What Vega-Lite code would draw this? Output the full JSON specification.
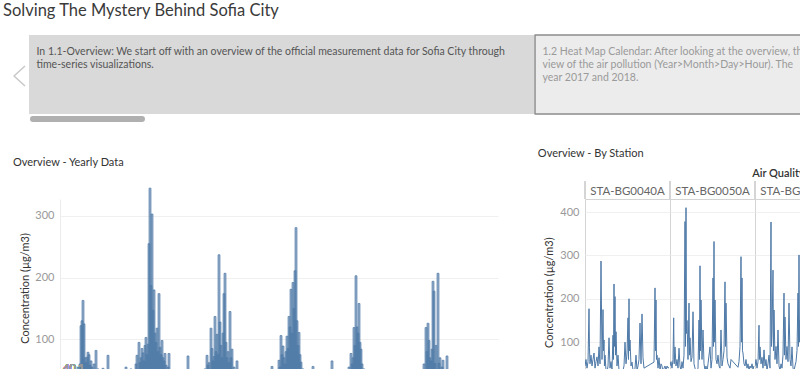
{
  "$schema": "https://vega.github.io/schema/vega-lite/v6.json",
  "padding": {"left": 3, "top": 2, "right": 0, "bottom": 0},
  "background": "white",
  "config": {"view": {"stroke": null}, "font": "Lato"},
  "title": {"text": "Solving The Mystery Behind Sofia City", "anchor": "start", "frame": "bounds", "dx": -10, "fontSize": 16.5, "fontWeight": "normal", "color": "#3a3a3a", "baseline": "top", "offset": 15},
  "spacing": 26,
  "vconcat": [
    {
      "width": 1011,
      "height": 79,
      "data": {"values": [
        {"story": "1.1 Overview", "state": "current", "caption": "In 1.1-Overview: We start off with an overview of the official measurement data for Sofia City through\ntime-series visualizations."},
        {"story": "1.2 Heat Map Calendar", "state": "other", "caption": "1.2 Heat Map Calendar: After looking at the overview, the\nview of the air pollution (Year>Month>Day>Hour).  The\nyear 2017 and 2018."}
      ]},
      "encoding": {"x": {"field": "story", "type": "nominal", "sort": null, "scale": {"paddingInner": 0.002, "paddingOuter": 0}, "axis": null}},
      "layer": [
        {"transform": [{"filter": "datum.state === 'current'"}], "mark": {"type": "rect", "fill": "#d9d9d9", "xOffset": -31, "x2Offset": -31}},
        {"transform": [{"filter": "datum.state === 'other'"}], "mark": {"type": "rect", "fill": "#ececec", "stroke": "#8c8c8c", "strokeWidth": 1.5, "strokeJoin": "round", "xOffset": -31, "x2Offset": -31}},
        {"mark": {"type": "text", "align": "left", "baseline": "top", "lineBreak": "\n", "dx": -23.5, "dy": -28, "fontSize": 10.5, "lineHeight": 13},
         "encoding": {"x": {"field": "story", "type": "nominal", "bandPosition": 0}, "text": {"field": "caption"},
           "color": {"field": "state", "type": "nominal", "scale": {"domain": ["current", "other"], "range": ["#555555", "#9a9a9a"]}, "legend": null}}},
        {"transform": [{"filter": "datum.state === 'current'"}], "mark": {"type": "point", "shape": "M0.55,-1L-0.55,0L0.55,1", "filled": false, "size": 400, "stroke": "#c8c8c8", "strokeWidth": 1.5, "strokeJoin": "round", "opacity": 1, "xOffset": -40.5, "yOffset": 1.5},
         "encoding": {"x": {"field": "story", "type": "nominal", "bandPosition": 0}}},
        {"transform": [{"filter": "datum.state === 'current'"}], "mark": {"type": "point", "shape": "M-0.948,0L0.948,0", "filled": false, "size": 13225, "stroke": "#b0b0b0", "strokeWidth": 6, "strokeCap": "round", "strokeJoin": "round", "opacity": 1, "xOffset": -31, "yOffset": 44.5},
         "encoding": {"x": {"field": "story", "type": "nominal", "bandPosition": 0.1158}}}
      ]
    },
    {
      "spacing": 38,
      "hconcat": [
        {
          "width": 438,
          "height": 202,
          "title": {"text": "Overview - Yearly Data", "anchor": "start", "frame": "group", "dx": -47, "fontSize": 11, "fontWeight": "normal", "color": "#333333", "baseline": "top", "offset": 19.5},
          "data": {"values": [
            {"Day":90,"Conc":55},{"Day":100,"Conc":60},{"Day":105,"Conc":122},{"Day":110,"Conc":130},{"Day":115,"Conc":163},{"Day":120,"Conc":125},{"Day":125,"Conc":70},{"Day":130,"Conc":62},{"Day":135,"Conc":71},{"Day":140,"Conc":79},{"Day":145,"Conc":75},{"Day":150,"Conc":58},{"Day":155,"Conc":65},{"Day":160,"Conc":55},{"Day":170,"Conc":60},{"Day":180,"Conc":82},{"Day":190,"Conc":52},{"Day":200,"Conc":48},{"Day":215,"Conc":53},{"Day":240,"Conc":74},{"Day":260,"Conc":45},{"Day":300,"Conc":42},{"Day":330,"Conc":55},
            {"Day":355,"Conc":52},{"Day":370,"Conc":48},{"Day":380,"Conc":60},{"Day":385,"Conc":74},{"Day":395,"Conc":95},{"Day":400,"Conc":62},{"Day":405,"Conc":70},{"Day":410,"Conc":85},{"Day":415,"Conc":78},{"Day":420,"Conc":65},{"Day":425,"Conc":90},{"Day":430,"Conc":103},{"Day":435,"Conc":75},{"Day":440,"Conc":92},{"Day":445,"Conc":255},{"Day":450,"Conc":345},{"Day":455,"Conc":187},{"Day":460,"Conc":303},{"Day":465,"Conc":147},{"Day":470,"Conc":180},{"Day":475,"Conc":110},{"Day":480,"Conc":95},{"Day":485,"Conc":118},{"Day":490,"Conc":80},{"Day":495,"Conc":174},{"Day":500,"Conc":87},{"Day":505,"Conc":75},{"Day":510,"Conc":98},{"Day":515,"Conc":70},{"Day":520,"Conc":65},{"Day":525,"Conc":77},{"Day":530,"Conc":58},{"Day":540,"Conc":55},{"Day":545,"Conc":77},{"Day":555,"Conc":50},{"Day":570,"Conc":45},{"Day":600,"Conc":42},{"Day":640,"Conc":73},{"Day":675,"Conc":45},
            {"Day":710,"Conc":48},{"Day":725,"Conc":52},{"Day":735,"Conc":74},{"Day":740,"Conc":58},{"Day":745,"Conc":62},{"Day":755,"Conc":118},{"Day":760,"Conc":85},{"Day":765,"Conc":65},{"Day":770,"Conc":72},{"Day":775,"Conc":137},{"Day":780,"Conc":80},{"Day":785,"Conc":108},{"Day":790,"Conc":75},{"Day":795,"Conc":237},{"Day":800,"Conc":128},{"Day":805,"Conc":90},{"Day":810,"Conc":70},{"Day":815,"Conc":110},{"Day":820,"Conc":174},{"Day":825,"Conc":207},{"Day":830,"Conc":95},{"Day":835,"Conc":70},{"Day":840,"Conc":80},{"Day":845,"Conc":62},{"Day":850,"Conc":145},{"Day":855,"Conc":70},{"Day":860,"Conc":84},{"Day":870,"Conc":55},{"Day":885,"Conc":65},{"Day":890,"Conc":50},{"Day":925,"Conc":45},{"Day":975,"Conc":42},
            {"Day":1040,"Conc":45},{"Day":1060,"Conc":56},{"Day":1080,"Conc":50},{"Day":1095,"Conc":66},{"Day":1100,"Conc":55},{"Day":1105,"Conc":106},{"Day":1110,"Conc":75},{"Day":1115,"Conc":89},{"Day":1120,"Conc":70},{"Day":1125,"Conc":60},{"Day":1130,"Conc":80},{"Day":1135,"Conc":105},{"Day":1140,"Conc":85},{"Day":1145,"Conc":137},{"Day":1150,"Conc":120},{"Day":1155,"Conc":181},{"Day":1160,"Conc":110},{"Day":1165,"Conc":192},{"Day":1170,"Conc":150},{"Day":1175,"Conc":211},{"Day":1180,"Conc":281},{"Day":1185,"Conc":130},{"Day":1190,"Conc":90},{"Day":1195,"Conc":111},{"Day":1200,"Conc":75},{"Day":1205,"Conc":63},{"Day":1215,"Conc":52},{"Day":1230,"Conc":45},{"Day":1265,"Conc":56},{"Day":1300,"Conc":44},{"Day":1360,"Conc":65},{"Day":1400,"Conc":45},
            {"Day":1430,"Conc":48},{"Day":1445,"Conc":55},{"Day":1455,"Conc":77},{"Day":1460,"Conc":60},{"Day":1465,"Conc":70},{"Day":1470,"Conc":119},{"Day":1475,"Conc":90},{"Day":1480,"Conc":203},{"Day":1485,"Conc":120},{"Day":1490,"Conc":110},{"Day":1495,"Conc":158},{"Day":1500,"Conc":95},{"Day":1505,"Conc":84},{"Day":1510,"Conc":60},{"Day":1520,"Conc":52},{"Day":1540,"Conc":45},{"Day":1600,"Conc":42},
            {"Day":1790,"Conc":45},{"Day":1810,"Conc":50},{"Day":1820,"Conc":60},{"Day":1830,"Conc":119},{"Day":1835,"Conc":80},{"Day":1840,"Conc":126},{"Day":1845,"Conc":98},{"Day":1850,"Conc":70},{"Day":1855,"Conc":65},{"Day":1860,"Conc":84},{"Day":1865,"Conc":194},{"Day":1870,"Conc":178},{"Day":1875,"Conc":61},{"Day":1880,"Conc":90},{"Day":1890,"Conc":207},{"Day":1895,"Conc":61},{"Day":1900,"Conc":70},{"Day":1910,"Conc":55},{"Day":1915,"Conc":66},{"Day":1925,"Conc":50},{"Day":1935,"Conc":73},{"Day":1950,"Conc":48},{"Day":1975,"Conc":42}
          ]},
          "layer": [
            {"mark": {"type": "bar", "width": 2, "fill": "#4e79a7", "fillOpacity": 0.6, "stroke": "#4e79a7", "strokeWidth": 0.7, "strokeOpacity": 0.95, "strokeJoin": "round"},
             "encoding": {
               "x": {"field": "Day", "type": "quantitative", "scale": {"domain": [0, 2190], "padding": 0, "nice": false, "zero": false}, "axis": null},
               "y": {"field": "Conc", "type": "quantitative", "scale": {"domain": [0, 327.4], "nice": false},
                 "axis": {"title": "Concentration (µg/m3)", "titleY": 89, "values": [0, 100, 200, 300], "grid": true, "gridColor": "#f0f0f0", "domain": true, "domainColor": "#ececec", "ticks": false, "tickSize": 0, "labelPadding": 6, "labelColor": "#999999", "labelFontSize": 11, "titleColor": "#333333", "titleFontSize": 11, "titleFontWeight": "normal", "titlePadding": 4}}}},
            {"mark": {"type": "rule", "color": "#aaaaaa", "strokeDash": [3, 3]}, "encoding": {"y": {"datum": 40.1}}},
            {"mark": {"type": "text", "align": "left", "baseline": "alphabetic", "dx": 3, "dy": -4, "fill": "#999999", "fontSize": 11},
             "encoding": {"x": {"datum": 0, "type": "quantitative"}, "y": {"datum": 40.1, "type": "quantitative"}, "text": {"value": "40.1"}}}
          ]
        },
        {
          "title": {"text": "Overview - By Station", "anchor": "start", "frame": "bounds", "dx": -6, "fontSize": 11, "fontWeight": "normal", "color": "#333333", "baseline": "top", "offset": 9},
          "bounds": "flush",
          "data": {"values": [
            {"Station":"STA-BG0040A","Day":0,"Conc":45},{"Station":"STA-BG0040A","Day":25,"Conc":60},{"Station":"STA-BG0040A","Day":50,"Conc":40},{"Station":"STA-BG0040A","Day":75,"Conc":55},{"Station":"STA-BG0040A","Day":100,"Conc":177},{"Station":"STA-BG0040A","Day":112,"Conc":87},{"Station":"STA-BG0040A","Day":125,"Conc":50},{"Station":"STA-BG0040A","Day":150,"Conc":70},{"Station":"STA-BG0040A","Day":175,"Conc":45},{"Station":"STA-BG0040A","Day":200,"Conc":60},{"Station":"STA-BG0040A","Day":225,"Conc":75},{"Station":"STA-BG0040A","Day":250,"Conc":40},{"Station":"STA-BG0040A","Day":275,"Conc":55},{"Station":"STA-BG0040A","Day":300,"Conc":66},{"Station":"STA-BG0040A","Day":325,"Conc":45},{"Station":"STA-BG0040A","Day":350,"Conc":89},{"Station":"STA-BG0040A","Day":375,"Conc":50},{"Station":"STA-BG0040A","Day":400,"Conc":287},{"Station":"STA-BG0040A","Day":425,"Conc":60},{"Station":"STA-BG0040A","Day":450,"Conc":175},{"Station":"STA-BG0040A","Day":462,"Conc":80},{"Station":"STA-BG0040A","Day":475,"Conc":105},{"Station":"STA-BG0040A","Day":487,"Conc":45},{"Station":"STA-BG0040A","Day":500,"Conc":70},{"Station":"STA-BG0040A","Day":525,"Conc":35},{"Station":"STA-BG0040A","Day":550,"Conc":30},{"Station":"STA-BG0040A","Day":575,"Conc":45},{"Station":"STA-BG0040A","Day":600,"Conc":110},{"Station":"STA-BG0040A","Day":625,"Conc":40},{"Station":"STA-BG0040A","Day":650,"Conc":55},{"Station":"STA-BG0040A","Day":675,"Conc":35},{"Station":"STA-BG0040A","Day":700,"Conc":116},{"Station":"STA-BG0040A","Day":712,"Conc":60},{"Station":"STA-BG0040A","Day":725,"Conc":234},{"Station":"STA-BG0040A","Day":737,"Conc":90},{"Station":"STA-BG0040A","Day":750,"Conc":205},{"Station":"STA-BG0040A","Day":762,"Conc":70},{"Station":"STA-BG0040A","Day":775,"Conc":124},{"Station":"STA-BG0040A","Day":800,"Conc":45},{"Station":"STA-BG0040A","Day":825,"Conc":70},{"Station":"STA-BG0040A","Day":850,"Conc":35},{"Station":"STA-BG0040A","Day":875,"Conc":25},{"Station":"STA-BG0040A","Day":900,"Conc":30},{"Station":"STA-BG0040A","Day":925,"Conc":20},{"Station":"STA-BG0040A","Day":950,"Conc":35},{"Station":"STA-BG0040A","Day":975,"Conc":45},{"Station":"STA-BG0040A","Day":1000,"Conc":100},{"Station":"STA-BG0040A","Day":1025,"Conc":50},{"Station":"STA-BG0040A","Day":1050,"Conc":75},{"Station":"STA-BG0040A","Day":1075,"Conc":156},{"Station":"STA-BG0040A","Day":1087,"Conc":60},{"Station":"STA-BG0040A","Day":1100,"Conc":200},{"Station":"STA-BG0040A","Day":1112,"Conc":80},{"Station":"STA-BG0040A","Day":1125,"Conc":105},{"Station":"STA-BG0040A","Day":1150,"Conc":45},{"Station":"STA-BG0040A","Day":1175,"Conc":54},{"Station":"STA-BG0040A","Day":1200,"Conc":35},{"Station":"STA-BG0040A","Day":1225,"Conc":25},{"Station":"STA-BG0040A","Day":1250,"Conc":40},{"Station":"STA-BG0040A","Day":1275,"Conc":70},{"Station":"STA-BG0040A","Day":1300,"Conc":35},{"Station":"STA-BG0040A","Day":1325,"Conc":45},{"Station":"STA-BG0040A","Day":1350,"Conc":60},{"Station":"STA-BG0040A","Day":1375,"Conc":144},{"Station":"STA-BG0040A","Day":1400,"Conc":50},{"Station":"STA-BG0040A","Day":1425,"Conc":165},{"Station":"STA-BG0040A","Day":1450,"Conc":64},{"Station":"STA-BG0040A","Day":1475,"Conc":40},{"Station":"STA-BG0040A","Day":1725,"Conc":54},{"Station":"STA-BG0040A","Day":1750,"Conc":225},{"Station":"STA-BG0040A","Day":1762,"Conc":80},{"Station":"STA-BG0040A","Day":1775,"Conc":197},{"Station":"STA-BG0040A","Day":1787,"Conc":60},{"Station":"STA-BG0040A","Day":1800,"Conc":70},{"Station":"STA-BG0040A","Day":1825,"Conc":40},{"Station":"STA-BG0040A","Day":1850,"Conc":64},{"Station":"STA-BG0040A","Day":1875,"Conc":35},{"Station":"STA-BG0040A","Day":1900,"Conc":50},{"Station":"STA-BG0040A","Day":1925,"Conc":45},{"Station":"STA-BG0040A","Day":1950,"Conc":30},{"Station":"STA-BG0040A","Day":1975,"Conc":40},{"Station":"STA-BG0040A","Day":2000,"Conc":45},{"Station":"STA-BG0040A","Day":2025,"Conc":35},{"Station":"STA-BG0040A","Day":2050,"Conc":45},{"Station":"STA-BG0040A","Day":2075,"Conc":40},{"Station":"STA-BG0040A","Day":2100,"Conc":42},
            {"Station":"STA-BG0050A","Day":0,"Conc":45},{"Station":"STA-BG0050A","Day":25,"Conc":55},{"Station":"STA-BG0050A","Day":50,"Conc":40},{"Station":"STA-BG0050A","Day":75,"Conc":60},{"Station":"STA-BG0050A","Day":92,"Conc":156},{"Station":"STA-BG0050A","Day":105,"Conc":50},{"Station":"STA-BG0050A","Day":125,"Conc":89},{"Station":"STA-BG0050A","Day":150,"Conc":45},{"Station":"STA-BG0050A","Day":175,"Conc":60},{"Station":"STA-BG0050A","Day":200,"Conc":40},{"Station":"STA-BG0050A","Day":225,"Conc":86},{"Station":"STA-BG0050A","Day":250,"Conc":45},{"Station":"STA-BG0050A","Day":275,"Conc":35},{"Station":"STA-BG0050A","Day":300,"Conc":55},{"Station":"STA-BG0050A","Day":325,"Conc":40},{"Station":"STA-BG0050A","Day":350,"Conc":70},{"Station":"STA-BG0050A","Day":375,"Conc":378},{"Station":"STA-BG0050A","Day":387,"Conc":90},{"Station":"STA-BG0050A","Day":400,"Conc":410},{"Station":"STA-BG0050A","Day":412,"Conc":120},{"Station":"STA-BG0050A","Day":425,"Conc":150},{"Station":"STA-BG0050A","Day":450,"Conc":60},{"Station":"STA-BG0050A","Day":475,"Conc":190},{"Station":"STA-BG0050A","Day":487,"Conc":70},{"Station":"STA-BG0050A","Day":500,"Conc":110},{"Station":"STA-BG0050A","Day":525,"Conc":55},{"Station":"STA-BG0050A","Day":550,"Conc":65},{"Station":"STA-BG0050A","Day":575,"Conc":170},{"Station":"STA-BG0050A","Day":600,"Conc":50},{"Station":"STA-BG0050A","Day":625,"Conc":40},{"Station":"STA-BG0050A","Day":650,"Conc":30},{"Station":"STA-BG0050A","Day":675,"Conc":35},{"Station":"STA-BG0050A","Day":700,"Conc":40},{"Station":"STA-BG0050A","Day":725,"Conc":151},{"Station":"STA-BG0050A","Day":737,"Conc":60},{"Station":"STA-BG0050A","Day":750,"Conc":276},{"Station":"STA-BG0050A","Day":762,"Conc":80},{"Station":"STA-BG0050A","Day":775,"Conc":197},{"Station":"STA-BG0050A","Day":800,"Conc":60},{"Station":"STA-BG0050A","Day":825,"Conc":128},{"Station":"STA-BG0050A","Day":850,"Conc":50},{"Station":"STA-BG0050A","Day":875,"Conc":35},{"Station":"STA-BG0050A","Day":900,"Conc":45},{"Station":"STA-BG0050A","Day":925,"Conc":30},{"Station":"STA-BG0050A","Day":950,"Conc":50},{"Station":"STA-BG0050A","Day":1000,"Conc":89},{"Station":"STA-BG0050A","Day":1025,"Conc":40},{"Station":"STA-BG0050A","Day":1050,"Conc":60},{"Station":"STA-BG0050A","Day":1075,"Conc":248},{"Station":"STA-BG0050A","Day":1087,"Conc":90},{"Station":"STA-BG0050A","Day":1100,"Conc":332},{"Station":"STA-BG0050A","Day":1112,"Conc":100},{"Station":"STA-BG0050A","Day":1125,"Conc":197},{"Station":"STA-BG0050A","Day":1150,"Conc":60},{"Station":"STA-BG0050A","Day":1175,"Conc":50},{"Station":"STA-BG0050A","Day":1200,"Conc":70},{"Station":"STA-BG0050A","Day":1225,"Conc":45},{"Station":"STA-BG0050A","Day":1250,"Conc":40},{"Station":"STA-BG0050A","Day":1275,"Conc":128},{"Station":"STA-BG0050A","Day":1300,"Conc":45},{"Station":"STA-BG0050A","Day":1325,"Conc":60},{"Station":"STA-BG0050A","Day":1350,"Conc":80},{"Station":"STA-BG0050A","Day":1375,"Conc":239},{"Station":"STA-BG0050A","Day":1387,"Conc":90},{"Station":"STA-BG0050A","Day":1400,"Conc":190},{"Station":"STA-BG0050A","Day":1425,"Conc":65},{"Station":"STA-BG0050A","Day":1450,"Conc":50},{"Station":"STA-BG0050A","Day":1500,"Conc":40},{"Station":"STA-BG0050A","Day":1525,"Conc":60},{"Station":"STA-BG0050A","Day":1700,"Conc":42},{"Station":"STA-BG0050A","Day":1725,"Conc":55},{"Station":"STA-BG0050A","Day":1750,"Conc":90},{"Station":"STA-BG0050A","Day":1775,"Conc":297},{"Station":"STA-BG0050A","Day":1787,"Conc":100},{"Station":"STA-BG0050A","Day":1800,"Conc":248},{"Station":"STA-BG0050A","Day":1812,"Conc":80},{"Station":"STA-BG0050A","Day":1825,"Conc":75},{"Station":"STA-BG0050A","Day":1850,"Conc":50},{"Station":"STA-BG0050A","Day":1875,"Conc":45},{"Station":"STA-BG0050A","Day":1900,"Conc":60},{"Station":"STA-BG0050A","Day":1925,"Conc":40},{"Station":"STA-BG0050A","Day":1950,"Conc":50},{"Station":"STA-BG0050A","Day":1975,"Conc":35},{"Station":"STA-BG0050A","Day":2000,"Conc":45},{"Station":"STA-BG0050A","Day":2025,"Conc":40},{"Station":"STA-BG0050A","Day":2050,"Conc":50},{"Station":"STA-BG0050A","Day":2075,"Conc":38},{"Station":"STA-BG0050A","Day":2100,"Conc":45},
            {"Station":"STA-BG0052A","Day":0,"Conc":45},{"Station":"STA-BG0052A","Day":25,"Conc":60},{"Station":"STA-BG0052A","Day":50,"Conc":40},{"Station":"STA-BG0052A","Day":75,"Conc":55},{"Station":"STA-BG0052A","Day":100,"Conc":139},{"Station":"STA-BG0052A","Day":112,"Conc":60},{"Station":"STA-BG0052A","Day":125,"Conc":89},{"Station":"STA-BG0052A","Day":150,"Conc":50},{"Station":"STA-BG0052A","Day":175,"Conc":65},{"Station":"STA-BG0052A","Day":200,"Conc":40},{"Station":"STA-BG0052A","Day":225,"Conc":82},{"Station":"STA-BG0052A","Day":250,"Conc":45},{"Station":"STA-BG0052A","Day":275,"Conc":60},{"Station":"STA-BG0052A","Day":300,"Conc":35},{"Station":"STA-BG0052A","Day":325,"Conc":50},{"Station":"STA-BG0052A","Day":350,"Conc":70},{"Station":"STA-BG0052A","Day":375,"Conc":40},{"Station":"STA-BG0052A","Day":400,"Conc":377},{"Station":"STA-BG0052A","Day":412,"Conc":90},{"Station":"STA-BG0052A","Day":425,"Conc":120},{"Station":"STA-BG0052A","Day":450,"Conc":266},{"Station":"STA-BG0052A","Day":462,"Conc":80},{"Station":"STA-BG0052A","Day":475,"Conc":174},{"Station":"STA-BG0052A","Day":500,"Conc":60},{"Station":"STA-BG0052A","Day":525,"Conc":90},{"Station":"STA-BG0052A","Day":550,"Conc":50},{"Station":"STA-BG0052A","Day":575,"Conc":128},{"Station":"STA-BG0052A","Day":600,"Conc":45},{"Station":"STA-BG0052A","Day":625,"Conc":35},{"Station":"STA-BG0052A","Day":650,"Conc":50},{"Station":"STA-BG0052A","Day":675,"Conc":40},{"Station":"STA-BG0052A","Day":700,"Conc":70},{"Station":"STA-BG0052A","Day":725,"Conc":213},{"Station":"STA-BG0052A","Day":737,"Conc":70},{"Station":"STA-BG0052A","Day":750,"Conc":158},{"Station":"STA-BG0052A","Day":775,"Conc":60},{"Station":"STA-BG0052A","Day":800,"Conc":90},{"Station":"STA-BG0052A","Day":825,"Conc":55},{"Station":"STA-BG0052A","Day":850,"Conc":190},{"Station":"STA-BG0052A","Day":875,"Conc":60},{"Station":"STA-BG0052A","Day":900,"Conc":45},{"Station":"STA-BG0052A","Day":925,"Conc":89},{"Station":"STA-BG0052A","Day":950,"Conc":40},{"Station":"STA-BG0052A","Day":975,"Conc":35},{"Station":"STA-BG0052A","Day":1000,"Conc":45},{"Station":"STA-BG0052A","Day":1025,"Conc":55},{"Station":"STA-BG0052A","Day":1050,"Conc":80},{"Station":"STA-BG0052A","Day":1075,"Conc":213},{"Station":"STA-BG0052A","Day":1087,"Conc":90},{"Station":"STA-BG0052A","Day":1100,"Conc":301},{"Station":"STA-BG0052A","Day":1112,"Conc":100},{"Station":"STA-BG0052A","Day":1125,"Conc":151},{"Station":"STA-BG0052A","Day":1150,"Conc":60},{"Station":"STA-BG0052A","Day":1175,"Conc":110},{"Station":"STA-BG0052A","Day":1200,"Conc":50},{"Station":"STA-BG0052A","Day":1250,"Conc":70},{"Station":"STA-BG0052A","Day":1300,"Conc":40},{"Station":"STA-BG0052A","Day":1375,"Conc":150},{"Station":"STA-BG0052A","Day":1450,"Conc":45},{"Station":"STA-BG0052A","Day":1550,"Conc":40},{"Station":"STA-BG0052A","Day":1750,"Conc":200},{"Station":"STA-BG0052A","Day":1850,"Conc":50},{"Station":"STA-BG0052A","Day":2000,"Conc":45},{"Station":"STA-BG0052A","Day":2100,"Conc":40},
            {"Station":"STA-BG0073A","Day":0,"Conc":45},{"Station":"STA-BG0073A","Day":400,"Conc":250},{"Station":"STA-BG0073A","Day":800,"Conc":60},{"Station":"STA-BG0073A","Day":1200,"Conc":200},{"Station":"STA-BG0073A","Day":1600,"Conc":50},{"Station":"STA-BG0073A","Day":2000,"Conc":45},
            {"Station":"STA-BG0079A","Day":0,"Conc":45},{"Station":"STA-BG0079A","Day":400,"Conc":230},{"Station":"STA-BG0079A","Day":800,"Conc":60},{"Station":"STA-BG0079A","Day":1200,"Conc":210},{"Station":"STA-BG0079A","Day":1600,"Conc":50},{"Station":"STA-BG0079A","Day":2000,"Conc":45}
          ]},
          "facet": {"column": {"field": "Station", "type": "nominal", "title": "Air Quality Station",
            "header": {"titleFontSize": 11, "titleColor": "#333333", "titleFontWeight": 600, "titleBaseline": "alphabetic", "titlePadding": -12, "labelFontSize": 11.5, "labelColor": "#666666", "labelBaseline": "alphabetic", "labelPadding": -7.5}}},
          "spacing": 0,
          "spec": {
            "width": 85,
            "height": 186.5,
            "view": {"stroke": "#d4d4d4"},
            "encoding": {
              "x": {"field": "Day", "type": "quantitative", "scale": {"domain": [0, 2125]}, "axis": null},
              "y": {"field": "Conc", "type": "quantitative", "scale": {"domain": [0, 430], "nice": false},
                "axis": {"title": "Concentration (µg/m3)", "values": [0, 100, 200, 300, 400], "grid": true, "gridColor": "#f0f0f0", "domain": false, "ticks": false, "tickSize": 0, "labelPadding": 6, "labelColor": "#999999", "labelFontSize": 11, "titleColor": "#333333", "titleFontSize": 11, "titleFontWeight": "normal", "titlePadding": 5}}
            },
            "layer": [
              {"mark": {"type": "line", "color": "#4e79a7", "strokeWidth": 1, "strokeJoin": "round", "clip": true}},
              {"mark": {"type": "rule", "color": "#d4d4d4", "strokeWidth": 1},
               "encoding": {"x": {"datum": 0, "type": "quantitative"}, "y": {"datum": 430, "type": "quantitative"}, "y2": {"datum": 470}}}
            ]
          }
        }
      ]
    }
  ]
}
